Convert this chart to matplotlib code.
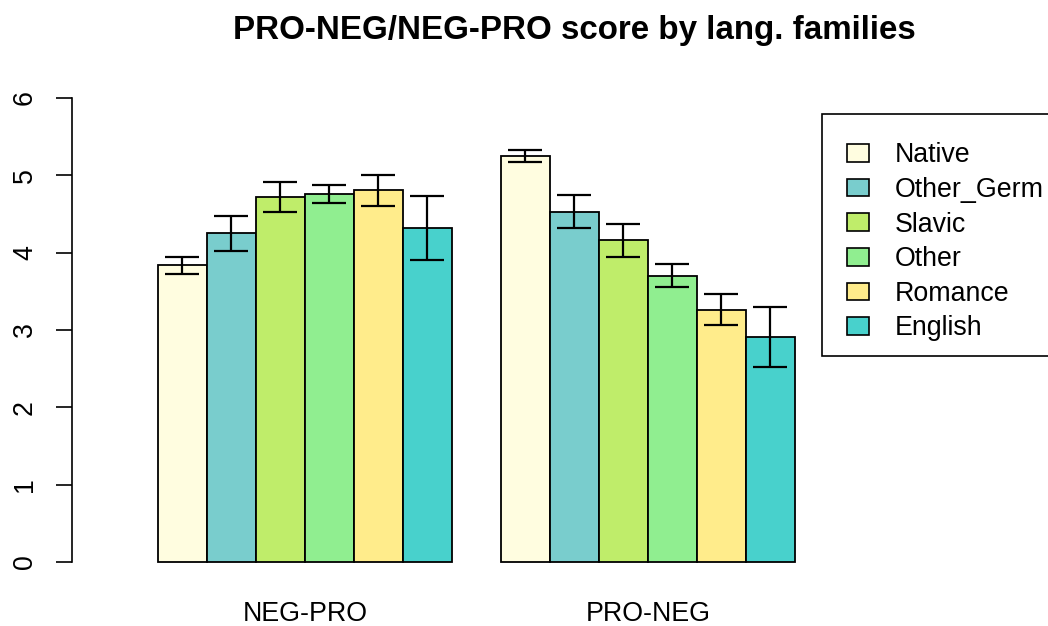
import numpy as np
import matplotlib.pyplot as plt

plt.rcParams['font.family'] = ['Liberation Sans', 'DejaVu Sans']

# data
groups = ['NEG-PRO', 'PRO-NEG']
families = ['Native', 'Other_Germ', 'Slavic', 'Other', 'Romance', 'English']
colors = ['#FFFDE0', '#79CDCD', '#BFED6A', '#90EE90', '#FFEC8B', '#48D1CC']
neg_pro = [3.84, 4.25, 4.72, 4.76, 4.81, 4.32]
neg_pro_err = [0.11, 0.23, 0.20, 0.12, 0.20, 0.41]
pro_neg = [5.25, 4.53, 4.16, 3.70, 3.26, 2.91]
pro_neg_err = [0.08, 0.21, 0.21, 0.15, 0.20, 0.39]

means = [neg_pro, pro_neg]
errs = [neg_pro_err, pro_neg_err]

fig = plt.figure(figsize=(10.48, 6.26), dpi=100)
ax = fig.add_axes([72 / 1048, 45.5 / 626, 1 - 72 / 1048, 501 / 626])

nf = len(families)
for g in range(len(groups)):
    x = g * (nf + 1) + np.arange(nf) + 0.5
    ax.bar(x, means[g], width=1.0, color=colors, edgecolor='black', linewidth=1.3)
    ax.errorbar(x, means[g], yerr=errs[g], fmt='none', ecolor='black',
                elinewidth=1.6, capsize=12, capthick=1.6)

ax.set_xlim(-1.755, -1.755 + 976 / 49)
ax.set_ylim(-0.24, 6.24)
ax.set_yticks(range(0, 7))
ax.set_yticklabels([str(i) for i in range(0, 7)], rotation=90, va='center')
ax.tick_params(axis='y', length=11.5, width=1.2, pad=13, labelsize=19.3)
ax.set_xticks([g * (nf + 1) + nf / 2 for g in range(len(groups))])
ax.set_xticklabels(groups)
ax.tick_params(axis='x', length=0, pad=15, labelsize=19.3)
for s in ['top', 'right', 'bottom']:
    ax.spines[s].set_visible(False)
ax.spines['left'].set_bounds(0, 6)
ax.spines['left'].set_linewidth(1.2)

# legend box drawn separately (R style, box runs past the right edge)
box = plt.Rectangle((822 / 1048, 1 - 356 / 626), 260 / 1048, 242 / 626,
                    transform=fig.transFigure, facecolor='white', edgecolor='black',
                    linewidth=1.2, clip_on=False, zorder=4)
ax.add_patch(box)

handles = [plt.Rectangle((0, 0), 1, 1, facecolor=c, edgecolor='black', linewidth=1.2)
           for c in colors]
leg = ax.legend(handles, families, loc='upper left',
                bbox_to_anchor=(822 / 1048, 1 - 117 / 626), bbox_transform=fig.transFigure,
                fontsize=19.3, frameon=False, handlelength=0.82, handleheight=0.63,
                handletextpad=0.93, labelspacing=0.32, borderpad=0.95, borderaxespad=0)
leg.set_zorder(6)

fig.text(574 / 1048, 1 - 30 / 626, 'PRO-NEG/NEG-PRO score by lang. families',
         ha='center', va='center', fontsize=23.9, fontweight='bold')

fig.savefig('out.png', dpi=100)
